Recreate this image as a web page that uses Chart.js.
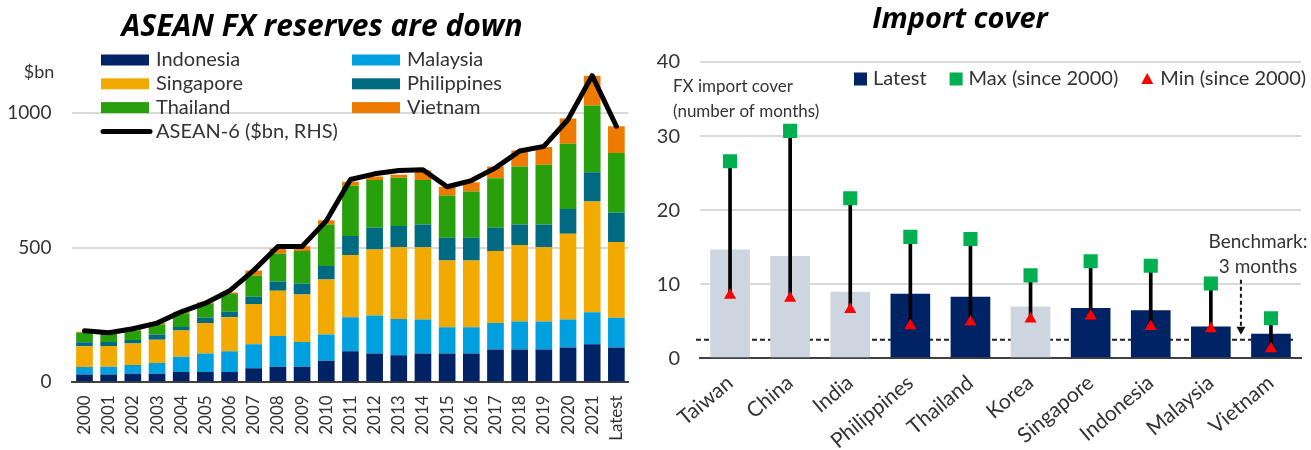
<!doctype html>
<html>
<head>
<meta charset="utf-8">
<title>ASEAN FX reserves / Import cover</title>
<script src="https://cdn.jsdelivr.net/npm/chart.js@4.4.0/dist/chart.umd.min.js"></script>
<style>
  html, body { margin: 0; padding: 0; background: #fff; }
  .wrap { display: flex; width: 1311px; height: 450px; }
  canvas { display: block; }
</style>
</head>
<body>
<div class="wrap">
  <canvas id="reserves" width="650" height="450"></canvas>
  <canvas id="cover" width="661" height="450"></canvas>
</div>
<script>
// ---- left chart data ($bn) ----
var years = ['2000','2001','2002','2003','2004','2005','2006','2007','2008','2009','2010','2011',
             '2012','2013','2014','2015','2016','2017','2018','2019','2020','2021','Latest'];
var indonesia   = [29,29,32,32,38,38,38,52,58,58,80,115,107,101,107,107,107,122,122,122,129,141,129];
var malaysia    = [28,29,32,40,57,69,77,89,114,92,98,127,141,134,126,98,98,98,104,104,104,119,111];
var singapore   = [77,77,80,86,98,113,127,150,168,176,204,231,246,267,269,248,248,268,284,276,319,412,282];
var philippines = [15,15,13,20,13,20,20,27,35,41,50,71,81,79,85,84,84,87,77,85,92,109,109];
var thailand    = [35,32,36,37,51,51,66,78,103,121,155,187,177,179,165,157,172,184,215,222,243,248,221];
var vietnam     = [4,4,4,6,5,6,6,20,19,18,15,15,13,12,35,33,35,43,60,66,94,111,100];
var asean6      = [192,184,199,220,262,294,340,416,505,505,600,754,775,787,790,727,750,797,860,877,977,1140,952];
var reserveTicks = [0, 500, 1000];

// ---- right chart data (months of imports) ----
var countries   = ['Taiwan','China','India','Philippines','Thailand','Korea','Singapore','Indonesia','Malaysia','Vietnam'];
var latestCover = [14.7,13.8,9.0,8.7,8.3,7.0,6.8,6.5,4.3,3.3];
var maxCover    = [26.6,30.7,21.6,16.4,16.1,11.2,13.1,12.5,10.1,5.4];
var minCover    = [8.5,8.1,6.6,4.4,4.9,5.3,5.7,4.3,4.0,1.3];
var isAsean     = [false,false,false,true,true,false,true,true,true,true];
var benchmark   = 2.5;

var FONT = "Lato, sans-serif";
var TITLE_FONT = "'Open Sans', sans-serif";
Chart.defaults.font.family = FONT;
Chart.defaults.color = '#333';

// title, legend and "$bn" drawn over the plot like the original
var reservesDecor = {
  id: 'reservesDecor',
  afterDraw: function(chart) {
    var ctx = chart.ctx;
    ctx.save();
    ctx.fillStyle = '#000';
    ctx.font = 'italic bold 30px ' + TITLE_FONT;
    ctx.textAlign = 'center';
    ctx.textBaseline = 'alphabetic';
    ctx.fillText('ASEAN FX reserves are down', 322, 36);

    ctx.fillStyle = '#333';
    ctx.font = '18px ' + FONT;
    ctx.textBaseline = 'middle';
    ctx.fillText('$bn', 39, 72);

    ctx.textAlign = 'left';
    ctx.font = '20px ' + FONT;
    chart.data.datasets.forEach(function(ds, i) {
      var col = i % 2, row = Math.floor(i / 2);
      if (ds.type === 'line') { col = 0; row = 3; }
      var bx = col === 0 ? 101 : 352;
      var by = 60 + row * 23.8;
      if (ds.type === 'line') {
        ctx.strokeStyle = ds.borderColor;
        ctx.lineWidth = 5;
        ctx.lineCap = 'round';
        ctx.beginPath(); ctx.moveTo(103, by); ctx.lineTo(150, by); ctx.stroke();
      } else {
        ctx.fillStyle = ds.backgroundColor;
        ctx.fillRect(bx, by - 5.5, 48, 11);
      }
      ctx.fillStyle = '#333';
      ctx.fillText(ds.label, bx + 55, by);
    });
    ctx.restore();
  }
};

new Chart(document.getElementById('reserves'), {
  type: 'bar',
  data: {
    labels: years,
    datasets: [
      { label: 'Indonesia',   data: indonesia,   backgroundColor: '#002366' },
      { label: 'Malaysia',    data: malaysia,    backgroundColor: '#00a0e0' },
      { label: 'Singapore',   data: singapore,   backgroundColor: '#f2aa00' },
      { label: 'Philippines', data: philippines, backgroundColor: '#006b80' },
      { label: 'Thailand',    data: thailand,    backgroundColor: '#27a00b' },
      { label: 'Vietnam',     data: vietnam,     backgroundColor: '#ee7a00' },
      { type: 'line', label: 'ASEAN-6 ($bn, RHS)', data: asean6, yAxisID: 'y2',
        borderColor: '#000', borderWidth: 5, pointRadius: 0, tension: 0,
        borderCapStyle: 'round', borderJoinStyle: 'round', order: -1 }
    ]
  },
  options: {
    responsive: false,
    animation: false,
    devicePixelRatio: 1,
    barPercentage: 0.69,
    categoryPercentage: 1,
    layout: { padding: { top: 59.5, right: 10.6, left: 0, bottom: 0 } },
    plugins: { legend: { display: false }, tooltip: { enabled: false } },
    scales: {
      x: {
        stacked: true,
        grid: { display: false, drawTicks: false },
        border: { color: '#404040', width: 2 },
        ticks: { minRotation: 90, maxRotation: 90, autoSkip: false, padding: 13,
                 font: { size: 17 }, color: '#333' },
        afterFit: function(s) { s.height = 67.7; }
      },
      y: {
        stacked: true, min: 0, max: 1200,
        ticks: { autoSkip: false, padding: 21, font: { size: 19 }, color: '#333',
                 callback: function(v) { return String(v); } },
        afterBuildTicks: function(s) { s.ticks = reserveTicks.map(function(v) { return { value: v }; }); },
        grid: { color: '#d9d9d9', lineWidth: 2, drawTicks: false },
        border: { display: false },
        afterFit: function(s) { s.width = 72.4; }
      },
      y2: { display: false, min: 0, max: 1200 }
    }
  },
  plugins: [reservesDecor]
});

// ---- right chart ----
var coverDecor = {
  id: 'coverDecor',
  beforeDatasetsDraw: function(chart) {
    // benchmark dashed line
    var ctx = chart.ctx, y = chart.scales.y, a = chart.chartArea;
    var by = y.getPixelForValue(benchmark);
    ctx.save();
    ctx.strokeStyle = '#222';
    ctx.lineWidth = 2;
    ctx.setLineDash([5, 3]);
    ctx.beginPath(); ctx.moveTo(a.left - 4, by); ctx.lineTo(a.right - 7, by); ctx.stroke();
    ctx.restore();
  },
  afterDraw: function(chart) {
    var ctx = chart.ctx, x = chart.scales.x, y = chart.scales.y;
    ctx.save();
    ctx.fillStyle = '#000';
    ctx.font = 'italic bold 29px ' + TITLE_FONT;
    ctx.textAlign = 'center';
    ctx.textBaseline = 'alphabetic';
    ctx.fillText('Import cover', 310, 28);

    // axis title inside the plot
    ctx.fillStyle = '#333';
    ctx.font = '17px ' + FONT;
    ctx.textAlign = 'left';
    ctx.textBaseline = 'middle';
    ctx.fillText('FX import cover', 23, 87);
    ctx.fillText('(number of months)', 23, 112);

    // legend
    ctx.font = '20px ' + FONT;
    var lx = 204, ly = 79;
    var items = [
      { text: 'Latest', color: '#002366', shape: 'rect' },
      { text: chart.data.datasets[0].label, color: chart.data.datasets[0].pointBackgroundColor, shape: 'rect' },
      { text: chart.data.datasets[1].label, color: chart.data.datasets[1].pointBackgroundColor, shape: 'tri' }
    ];
    items.forEach(function(it) {
      ctx.fillStyle = it.color;
      if (it.shape === 'rect') {
        ctx.fillRect(lx, ly - 6.5, 13, 13);
      } else {
        ctx.beginPath();
        ctx.moveTo(lx + 6, ly - 6); ctx.lineTo(lx + 12, ly + 5); ctx.lineTo(lx, ly + 5);
        ctx.closePath(); ctx.fill();
      }
      lx += 19;
      ctx.fillStyle = '#333';
      ctx.fillText(it.text, lx, ly);
      lx += ctx.measureText(it.text).width + 23;
    });

    // benchmark annotation with dotted arrow
    var ax = (x.getPixelForValue(8) + x.getPixelForValue(9)) / 2;
    var by = y.getPixelForValue(benchmark);
    ctx.textAlign = 'center';
    ctx.font = '19px ' + FONT;
    ctx.fillText('Benchmark:', 608, 242);
    ctx.fillText('3 months', 608, 267);
    ctx.strokeStyle = '#111';
    ctx.lineWidth = 2;
    ctx.setLineDash([4, 3]);
    ctx.beginPath(); ctx.moveTo(ax, by - 60); ctx.lineTo(ax, by - 12); ctx.stroke();
    ctx.setLineDash([]);
    ctx.fillStyle = '#111';
    ctx.beginPath(); ctx.moveTo(ax - 4.5, by - 13); ctx.lineTo(ax + 4.5, by - 13); ctx.lineTo(ax, by - 5);
    ctx.closePath(); ctx.fill();
    ctx.restore();
  }
};

new Chart(document.getElementById('cover'), {
  type: 'bar',
  data: {
    labels: countries,
    datasets: [
      { type: 'line', label: 'Max (since 2000)', data: maxCover, showLine: false,
        pointStyle: 'rect', pointRadius: 10, pointBackgroundColor: '#00b050', pointBorderWidth: 0, order: 1 },
      { type: 'line', label: 'Min (since 2000)', data: minCover, showLine: false,
        pointStyle: 'triangle', pointRadius: 7, pointBackgroundColor: '#ff0000', pointBorderWidth: 0, order: 2 },
      { label: 'range', data: countries.map(function(c, i) { return [minCover[i], maxCover[i]]; }),
        backgroundColor: '#000', barThickness: 3, grouped: false, order: 3 },
      { label: 'Latest', data: latestCover, grouped: false, order: 4,
        backgroundColor: isAsean.map(function(a) { return a ? '#002366' : '#cdd5e1'; }),
        barPercentage: 0.66, categoryPercentage: 1 }
    ]
  },
  options: {
    responsive: false,
    animation: false,
    devicePixelRatio: 1,
    layout: { padding: { top: 62, right: 1.5, left: 0, bottom: 0 } },
    plugins: { legend: { display: false }, tooltip: { enabled: false } },
    scales: {
      x: {
        grid: { display: false, drawTicks: false },
        border: { color: '#404040', width: 2 },
        ticks: { minRotation: 40, maxRotation: 40, autoSkip: false, padding: 12,
                 font: { size: 21 }, color: '#333' },
        afterFit: function(s) { s.height = 91.7; }
      },
      y: {
        min: 0, max: 40,
        ticks: { stepSize: 10, autoSkip: false, padding: 20, font: { size: 20 }, color: '#333' },
        grid: { color: '#d9d9d9', lineWidth: 2, drawTicks: false },
        border: { display: false },
        afterFit: function(s) { s.width = 50; }
      }
    }
  },
  plugins: [coverDecor]
});
</script>
</body>
</html>
